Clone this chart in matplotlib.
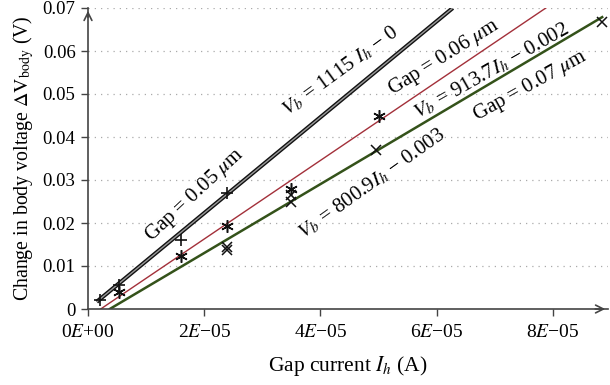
import matplotlib.pyplot as plt

plt.rcParams['font.family'] = ['Liberation Serif', 'DejaVu Serif']
plt.rcParams['mathtext.fontset'] = 'stix'
plt.rcParams['font.size'] = 13

# measured points, one list pair per gap width
gap05_current = [2.0e-6, 5.3e-6, 1.6e-5, 2.4e-5]
gap05_voltage = [0.002, 0.0055, 0.016, 0.027]

gap06_current = [5.3e-6, 1.6e-5, 2.4e-5, 3.5e-5, 5.0e-5]
gap06_voltage = [0.0040, 0.0123, 0.0194, 0.028, 0.045]

gap07_current = [2.4e-5, 2.4e-5, 3.5e-5, 3.5e-5, 4.95e-5, 8.85e-5]
gap07_voltage = [0.0145, 0.0137, 0.0265, 0.025, 0.037, 0.0667]

# linear fits V_b = slope * I_h + offset, drawn over [start, end]
fit_slopes = [1115, 913.7, 800.9]
fit_offsets = [0.0, -0.002, -0.003]
fit_start = [1.5e-6, 2.2e-6, 3.8e-6]
fit_end = [0.07 / 1115, 0.072 / 913.7, 8.85e-5]

xtick_values = [0, 2e-5, 4e-5, 6e-5, 8e-5]
xtick_labels = ['0$E$+00', '2$E$\u221205', '4$E$\u221205', '6$E$\u221205', '8$E$\u221205']
ytick_values = [0, 0.01, 0.02, 0.03, 0.04, 0.05, 0.06, 0.07]
ytick_labels = ['0', '0.01', '0.02', '0.03', '0.04', '0.05', '0.06', '0.07']

fig = plt.figure(figsize=(6.1, 3.85), dpi=100)
ax = fig.add_axes([88 / 610, 1 - 309 / 385, 520 / 610, 301 / 385])
ax.set_xlim(0, 8.95e-5)
ax.set_ylim(0, 0.07)

for y in ytick_values[1:]:
    ax.axhline(y, color='#aaaaaa', lw=0.9, ls=(0, (1, 4)), zorder=0)

def fit_line(k):
    xs = [fit_start[k], fit_end[k]]
    ys = [fit_slopes[k] * x + fit_offsets[k] for x in xs]
    return xs, ys

# gap 0.05: double black line
xs, ys = fit_line(0)
ax.plot(xs, ys, color='#111111', lw=3.0, solid_capstyle='butt', zorder=2)
ax.plot(xs, ys, color='#9a9a9a', lw=1.0, solid_capstyle='butt', zorder=2)
# gap 0.06: thin red line
xs, ys = fit_line(1)
ax.plot(xs, ys, color='#a3303a', lw=1.0, zorder=2)
# gap 0.07: dark green line
xs, ys = fit_line(2)
ax.plot(xs, ys, color='#34521a', lw=1.8, zorder=2)

ax.plot(gap05_current, gap05_voltage, ls='none', marker='+', ms=9, mew=1.2, color='#111111', zorder=3)
ax.plot(gap06_current, gap06_voltage, ls='none', marker=(6, 2, 0), ms=9, mew=1.1, color='#111111', zorder=3)
ax.plot(gap07_current, gap07_voltage, ls='none', marker='x', ms=7, mew=1.1, color='#111111', zorder=3)

labels = [
    (1.84e-5, 0.0266, 43, 'Gap = 0.05 $\\mu$m'),
    (4.34e-5, 0.0553, 36, '$V_b$ = 1115 $I_h$ \u2212 0'),
    (6.13e-5, 0.0584, 32, 'Gap = 0.06 $\\mu$m'),
    (6.95e-5, 0.0553, 29.5, '$V_b$ = 913.7$I_h$ \u2212 0.002'),
    (7.61e-5, 0.0519, 29, 'Gap = 0.07 $\\mu$m'),
    (4.89e-5, 0.0291, 35.5, '$V_b$ = 800.9$I_h$ \u2212 0.003'),
]
for x, y, rot, txt in labels:
    ax.text(x, y, txt, rotation=rot, rotation_mode='anchor', ha='center', va='center', fontsize=15)

ax.set_xticks(xtick_values)
ax.set_xticklabels(xtick_labels)
ax.set_yticks(ytick_values)
ax.set_yticklabels(ytick_labels)
ax.tick_params(axis='x', labelsize=14, pad=6)
ax.tick_params(axis='y', labelsize=13.5, pad=4)
ax.tick_params(direction='out', length=5, width=1, color='#444444')

for side in ['top', 'right']:
    ax.spines[side].set_visible(False)
for side in ['left', 'bottom']:
    ax.spines[side].set_color('#444444')
    ax.spines[side].set_linewidth(1.2)

# open arrow heads at the axis ends
ax.annotate('', xy=(1.0, 0), xytext=(0.97, 0), xycoords='axes fraction',
            arrowprops=dict(arrowstyle='->', color='#444444', lw=1.2, mutation_scale=14))
ax.annotate('', xy=(0, 1.0), xytext=(0, 0.96), xycoords='axes fraction',
            arrowprops=dict(arrowstyle='->', color='#444444', lw=1.2, mutation_scale=14))

ax.set_xlabel('Gap current $I_h$ (A)', fontsize=15.5, labelpad=9)
ax.set_ylabel('Change in body voltage $\\Delta\\mathrm{V}_{\\mathrm{body}}$ (V)', fontsize=14.3, labelpad=5)

fig.savefig('out.png', dpi=100)
